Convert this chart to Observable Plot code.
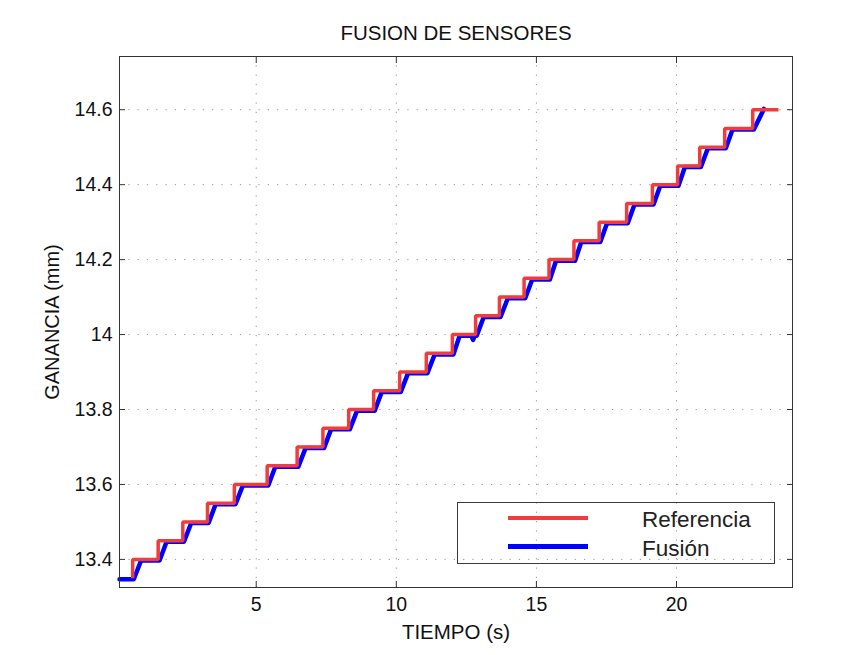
<!DOCTYPE html>
<html>
<head>
<meta charset="utf-8">
<script src="https://cdn.jsdelivr.net/npm/d3@7"></script>
<script src="https://cdn.jsdelivr.net/npm/@observablehq/plot@0.6"></script>
<style>
  html, body { margin: 0; padding: 0; background: #fff; }
  #wrap { position: relative; width: 863px; height: 655px; font-family: "Liberation Sans", Arial, Helvetica, sans-serif; }
  #legend { position: absolute; left: 457px; top: 502px; width: 316px; height: 60px; border: 1px solid #3a3a3a; box-sizing: content-box; }
  .sw { position: absolute; left: 50px; width: 80px; }
  .lt { position: absolute; left: 184px; font-size: 22.5px; line-height: 22px; color: #222; }
</style>
</head>
<body>
<div id="wrap"></div>
<script>
// ---- data ----
const title = "FUSION DE SENSORES";
const xLabel = "TIEMPO (s)";
const yLabel = "GANANCIA (mm)";
const seriesNames = ["Referencia", "Fusión"];
const xTicks = [5, 10, 15, 20];
const yTicks = [13.4, 13.6, 13.8, 14.0, 14.2, 14.4, 14.6];

// Reference (red) step signal: time (s) and value (mm)
const refTime  = [0.59, 0.59, 1.50, 2.38, 3.26, 4.22, 5.39, 6.46, 7.38, 8.30, 9.19, 10.12, 11.07, 12.00, 12.83, 13.68, 14.56, 15.45, 16.34, 17.24, 18.22, 19.14, 20.04, 20.83, 21.72, 22.72, 23.64];
const refValue = [13.35, 13.40, 13.45, 13.50, 13.55, 13.60, 13.65, 13.70, 13.75, 13.80, 13.85, 13.90, 13.95, 14.00, 14.05, 14.10, 14.15, 14.20, 14.25, 14.30, 14.35, 14.40, 14.45, 14.50, 14.55, 14.60, 14.60];

// Fusion (blue) estimate
const fusionTime  = [0.12, 0.63, 0.89, 1.55, 1.80, 2.42, 2.68, 3.30, 3.55, 4.26, 4.52, 5.43, 5.68, 6.50, 6.76, 7.42, 7.67, 8.34, 8.60, 9.23, 9.48, 10.16, 10.42, 11.11, 11.37, 12.04, 12.26, 12.68, 12.74, 12.80, 12.87, 13.12, 13.72, 13.98, 14.60, 14.85, 15.48, 15.70, 16.38, 16.60, 17.28, 17.52, 18.26, 18.50, 19.18, 19.42, 20.07, 20.30, 20.87, 21.12, 21.76, 22.00, 22.76, 23.12];
const fusionValue = [13.347, 13.347, 13.397, 13.397, 13.447, 13.447, 13.497, 13.497, 13.547, 13.547, 13.597, 13.597, 13.647, 13.647, 13.697, 13.697, 13.747, 13.747, 13.797, 13.797, 13.847, 13.847, 13.897, 13.897, 13.947, 13.947, 13.997, 13.997, 13.986, 13.997, 13.997, 14.047, 14.047, 14.097, 14.097, 14.147, 14.147, 14.197, 14.197, 14.247, 14.247, 14.297, 14.297, 14.347, 14.347, 14.397, 14.397, 14.447, 14.447, 14.497, 14.497, 14.547, 14.547, 14.602];

const xDomain = [0.12, 24.14];
const yDomain = [13.325, 14.742];

const refColor = "#f03c3c";
const fusColor = "#0000ff";

const ref = refTime.map((t, i) => ({t, v: refValue[i]}));
const fus = fusionTime.map((t, i) => ({t, v: fusionValue[i]}));

const fontFamily = '"Liberation Sans", Arial, Helvetica, sans-serif';
const gridStyle = {stroke: "#444", strokeOpacity: 0.55, strokeWidth: 1, strokeDasharray: "1.2,8.1"};

const chart = Plot.plot({
  width: 863,
  height: 655,
  marginLeft: 119,
  marginRight: 71,
  marginTop: 56,
  marginBottom: 68,
  style: {fontFamily, fontSize: "19.5px", color: "#111", background: "#fff"},
  x: {domain: xDomain, label: null},
  y: {domain: yDomain, label: null},
  marks: [
    Plot.gridX(xTicks, gridStyle),
    Plot.gridY(yTicks, gridStyle),
    Plot.axisX(xTicks, {anchor: "bottom", tickSize: -6, tickPadding: 16, label: null, fontSize: 19.5, stroke: "#333"}),
    Plot.axisX(xTicks, {anchor: "top", tickSize: -6, tickFormat: () => "", label: null, stroke: "#333"}),
    Plot.axisY(yTicks, {anchor: "left", tickSize: -6, tickPadding: 13, label: null, fontSize: 19.5, stroke: "#333", tickFormat: d => d3.format("~g")(d)}),
    Plot.axisY(yTicks, {anchor: "right", tickSize: -6, tickFormat: () => "", label: null, stroke: "#333"}),
    Plot.line(fus, {x: "t", y: "v", stroke: fusColor, strokeWidth: 4.5, strokeLinejoin: "round", strokeLinecap: "round"}),
    Plot.line(ref, {x: "t", y: "v", stroke: refColor, strokeWidth: 3.5, curve: "step-after", strokeLinejoin: "miter", strokeLinecap: "butt"}),
    Plot.frame({stroke: "#333", strokeWidth: 1}),
    Plot.text([title], {frameAnchor: "top", lineAnchor: "middle", textAnchor: "middle", dy: -23, fontSize: 20.5, fill: "#111"}),
    Plot.text([xLabel], {frameAnchor: "bottom", lineAnchor: "middle", textAnchor: "middle", dy: 45, fontSize: 20.5, fill: "#111"}),
    Plot.text([yLabel], {frameAnchor: "left", lineAnchor: "middle", textAnchor: "middle", dx: -67, rotate: -90, fontSize: 20, fill: "#111"})
  ]
});

const wrap = document.getElementById("wrap");
wrap.appendChild(chart);

// Legend (inside plot area, lower right)
const legend = document.createElement("div");
legend.id = "legend";
const items = [
  {name: seriesNames[0], color: refColor, h: 4, top: 13, textTop: 6},
  {name: seriesNames[1], color: fusColor, h: 5, top: 41, textTop: 35}
];
for (const it of items) {
  const sw = document.createElement("div");
  sw.className = "sw";
  sw.style.top = it.top + "px";
  sw.style.height = it.h + "px";
  sw.style.background = it.color;
  legend.appendChild(sw);
  const tx = document.createElement("div");
  tx.className = "lt";
  tx.style.top = it.textTop + "px";
  tx.textContent = it.name;
  legend.appendChild(tx);
}
wrap.appendChild(legend);
</script>
</body>
</html>
